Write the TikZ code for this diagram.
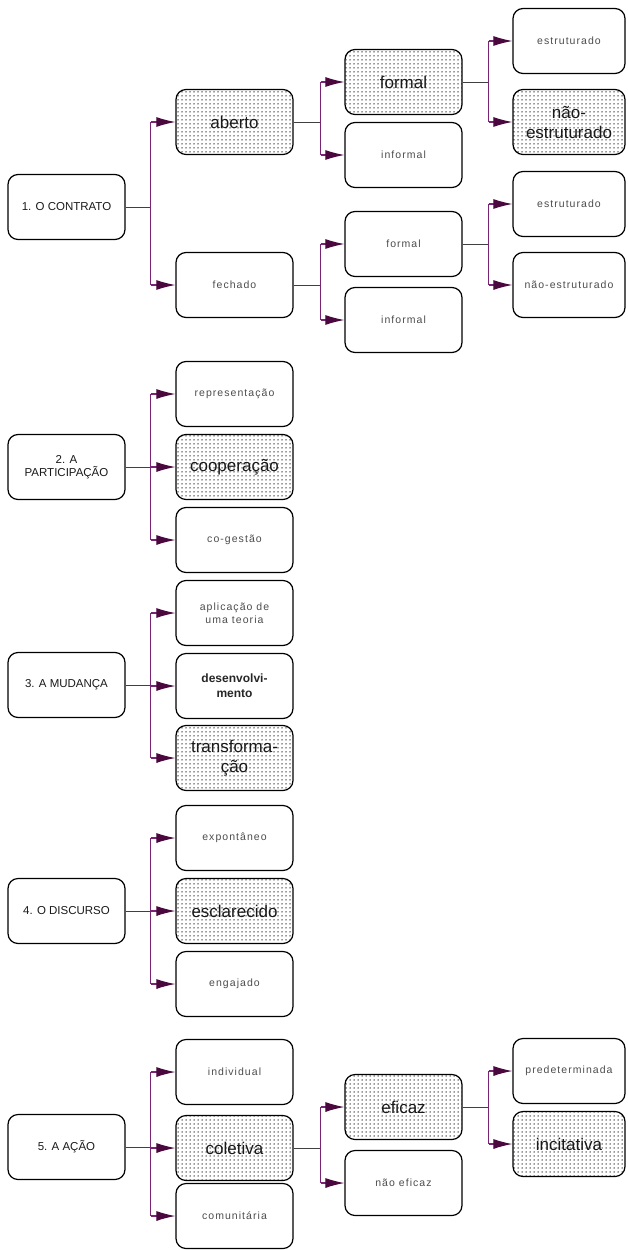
\documentclass[tikz,border=0pt]{standalone}
\usepackage{fontspec}
\setmainfont{Liberation Sans}
\newfontfamily\spacedsans[LetterSpace=10]{Liberation Sans}
\usetikzlibrary{arrows.meta,patterns.meta}

\definecolor{trunkpurple}{RGB}{120,35,115}
\definecolor{tippurple}{RGB}{75,8,62}

\tikzdeclarepattern{
  name=boxdots,
  type=uncolored,
  bottom left={(-.1pt,-.1pt)},
  top right={(4.1pt,4.1pt)},
  tile size={(4pt,4pt)},
  code={\fill (2pt,2pt) circle (0.75pt);}
}

\begin{document}
\begin{tikzpicture}[x=1pt,y=-1pt,
  box/.style={draw=black,line width=1.2pt,rounded corners=10pt,minimum width=117pt,minimum height=65pt,align=center,inner sep=2pt},
  rootbox/.style={box,font=\fontsize{11.5}{13.5}\selectfont,text=black!90},
  leafbox/.style={box,font=\spacedsans\fontsize{10.5}{13}\selectfont,text=black!70},
  boldbox/.style={box,font=\bfseries\fontsize{12}{15}\selectfont,text=black!85},
  dotbox/.style={box,pattern={boxdots},pattern color=black!80,font=\fontsize{17}{20}\selectfont,text=black!90},
  stem/.style={draw=black!75,line width=1pt},
  trunk/.style={draw=trunkpurple,line width=1.1pt},
  twig/.style={draw=trunkpurple,line width=1.1pt,-{Latex[length=19pt,width=10pt,color=tippurple]}}]

\useasboundingbox (0,0) rectangle (627,1250);

% first column
\node[rootbox] (c1) at (66.5,207) {1. O CONTRATO};
\node[rootbox] (c2) at (66.5,467) {2. A\\PARTICIPAÇÃO};
\node[rootbox] (c3) at (66.5,685) {3. A MUDANÇA};
\node[rootbox] (c4) at (66.5,911) {4. O DISCURSO};
\node[rootbox] (c5) at (66.5,1147) {5. A AÇÃO};

% second column
\node[dotbox] (aberto) at (234.5,122) {aberto};
\node[leafbox] (fechado) at (234.5,285) {fechado};
\node[leafbox] (repres) at (234.5,394) {representação};
\node[dotbox] (cooper) at (234.5,467) {cooperação};
\node[leafbox] (cogest) at (234.5,540) {co-gestão};
\node[leafbox] (aplic) at (234.5,613) {aplicação de\\uma teoria};
\node[boldbox] (desenv) at (234.5,686) {desenvolvi-\\mento};
\node[dotbox] (transf) at (234.5,758) {transforma-\\ção};
\node[leafbox] (expont) at (234.5,838) {expontâneo};
\node[dotbox] (esclar) at (234.5,911) {esclarecido};
\node[leafbox] (engaj) at (234.5,984) {engajado};
\node[leafbox] (indiv) at (234.5,1072) {individual};
\node[dotbox] (colet) at (234.5,1148) {coletiva};
\node[leafbox] (comun) at (234.5,1216) {comunitária};

% third column
\node[dotbox] (formalA) at (403.5,82) {formal};
\node[leafbox] (informalA) at (403.5,155) {informal};
\node[leafbox] (formalF) at (403.5,244) {formal};
\node[leafbox] (informalF) at (403.5,320) {informal};
\node[dotbox] (eficaz) at (403.5,1107) {eficaz};
\node[leafbox] (naoef) at (403.5,1183) {não eficaz};

% fourth column
\node[leafbox,minimum width=112pt] (estrA) at (569,41) {estruturado};
\node[dotbox,minimum width=112pt] (naoestrA) at (569,122) {não-\\estruturado};
\node[leafbox,minimum width=112pt] (estrF) at (569,204) {estruturado};
\node[leafbox,minimum width=112pt] (naoestrF) at (569,285) {não-estruturado};
\node[leafbox,minimum width=112pt] (predet) at (569,1071) {predeterminada};
\node[dotbox,minimum width=112pt] (incit) at (569,1144) {incitativa};

% contrato
\draw[stem] (c1.east) -- ++(25,0) coordinate (j1);
\draw[trunk] (j1 |- aberto.west) -- (j1 |- fechado.west);
\foreach \k in {aberto,fechado} \draw[twig] (j1 |- \k.west) -- (\k.west);

\draw[stem] (aberto.east) -- ++(27,0) coordinate (j11);
\draw[trunk] (j11 |- formalA.west) -- (j11 |- informalA.west);
\foreach \k in {formalA,informalA} \draw[twig] (j11 |- \k.west) -- (\k.west);

\draw[stem] (formalA.east) -- ++(26,0) coordinate (j111);
\draw[trunk] (j111 |- estrA.west) -- (j111 |- naoestrA.west);
\foreach \k in {estrA,naoestrA} \draw[twig] (j111 |- \k.west) -- (\k.west);

\draw[stem] (fechado.east) -- ++(27,0) coordinate (j12);
\draw[trunk] (j12 |- formalF.west) -- (j12 |- informalF.west);
\foreach \k in {formalF,informalF} \draw[twig] (j12 |- \k.west) -- (\k.west);

\draw[stem] (formalF.east) -- ++(26,0) coordinate (j121);
\draw[trunk] (j121 |- estrF.west) -- (j121 |- naoestrF.west);
\foreach \k in {estrF,naoestrF} \draw[twig] (j121 |- \k.west) -- (\k.west);

% participacao
\draw[stem] (c2.east) -- ++(25,0) coordinate (j2);
\draw[trunk] (j2 |- repres.west) -- (j2 |- cogest.west);
\foreach \k in {repres,cooper,cogest} \draw[twig] (j2 |- \k.west) -- (\k.west);

% mudanca
\draw[stem] (c3.east) -- ++(25,0) coordinate (j3);
\draw[trunk] (j3 |- aplic.west) -- (j3 |- transf.west);
\foreach \k in {aplic,desenv,transf} \draw[twig] (j3 |- \k.west) -- (\k.west);

% discurso
\draw[stem] (c4.east) -- ++(25,0) coordinate (j4);
\draw[trunk] (j4 |- expont.west) -- (j4 |- engaj.west);
\foreach \k in {expont,esclar,engaj} \draw[twig] (j4 |- \k.west) -- (\k.west);

% acao
\draw[stem] (c5.east) -- ++(25,0) coordinate (j5);
\draw[trunk] (j5 |- indiv.west) -- (j5 |- comun.west);
\foreach \k in {indiv,colet,comun} \draw[twig] (j5 |- \k.west) -- (\k.west);

\draw[stem] (colet.east) -- ++(27,0) coordinate (j52);
\draw[trunk] (j52 |- eficaz.west) -- (j52 |- naoef.west);
\foreach \k in {eficaz,naoef} \draw[twig] (j52 |- \k.west) -- (\k.west);

\draw[stem] (eficaz.east) -- ++(26,0) coordinate (j521);
\draw[trunk] (j521 |- predet.west) -- (j521 |- incit.west);
\foreach \k in {predet,incit} \draw[twig] (j521 |- \k.west) -- (\k.west);

\end{tikzpicture}
\end{document}
